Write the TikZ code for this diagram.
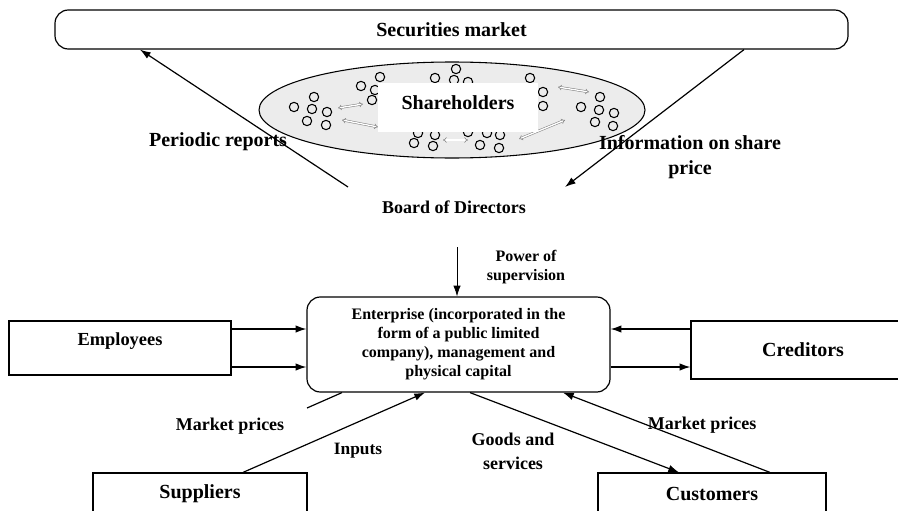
\documentclass[tikz,border=0pt]{standalone}
\usepackage{fontspec}
\setmainfont{Liberation Serif}
\usetikzlibrary{arrows.meta,shapes.geometric}

\begin{document}
\begin{tikzpicture}[
    x=0.75pt, y=-0.75pt,
    box/.style={draw, line width=0.9pt, inner sep=0pt, font=\bfseries\fontsize{15}{19}\selectfont},
    roundbox/.style={box, rounded corners=10pt},
    arr/.style={line width=0.9pt, -{Latex[length=8pt, width=5.5pt]}},
    trade/.style={draw=gray, double=white, double distance=1pt, line width=0.4pt, {Implies}-{Implies}},
    lbl/.style={font=\bfseries\fontsize{13.5}{18}\selectfont, align=center},
    biglbl/.style={font=\bfseries\fontsize{15}{19}\selectfont, align=center},
]
\clip (0,0) rectangle (898,510);
% market and shareholders
\node[roundbox, minimum width=594.75pt, minimum height=29.25pt] (sec) at (451.5,29.5) {Securities market};
\node[ellipse, draw, line width=0.8pt, fill=gray!15, minimum width=289.5pt, minimum height=72pt] (shell) at (452,110) {};
\foreach \p in {(294,107),(314,97),(312,109),(327,112),(307,121),(326,125),
                (361,86),(380,77),(375,90),(372,100),(435,78),(456,69),(454,80),(468,82),
                (418,133),(435,135),(414,143),(433,146),(468,132),(487,133),(500,135),(480,145),(499,148),
                (530,78),(543,92),(543,106),(600,97),(581,107),(599,110),(614,113),(595,122),(613,126)}
    \draw[line width=0.8pt] \p circle[radius=3.5pt];
\draw[trade] (338,108) -- (363,104);
\draw[trade] (342,120) -- (378,127);
\draw[trade] (443,140) -- (468,140);
\draw[trade] (558,87) -- (589,92);
\draw[trade] (519,139) -- (565,120);
\node[fill=white, minimum width=120pt, minimum height=36.75pt, text depth=8pt, biglbl] (sh) at (458,107.5) {Shareholders};
% board
\node[lbl] (bod) at (454,207) {Board of Directors};
\coordinate (bodL) at (348,187);
\coordinate (bodR) at (565,187);
\draw[arr] (bodL) -- (sec.south -| 140,0);
\draw[arr] (sec.south -| 744,0) -- (bodR);
\node[biglbl] (rep) at (218,142) {Periodic reports};
\node[biglbl] (info) at (690,157) {Information on share\\price};
% enterprise
\node[roundbox, minimum width=227.25pt, minimum height=71.25pt, align=center,
      font=\bfseries\fontsize{12}{14.25}\selectfont] (ent) at (458.5,344.5)
    {Enterprise (incorporated in the\\form of a public limited\\company), management and\\physical capital};
\coordinate (pow) at (457,247);
\draw[arr, line width=0.6pt] (pow) -- (ent.north -| 457,0);
\node[lbl, font=\bfseries\fontsize{12}{14}\selectfont] (powl) at (526,267) {Power of\\supervision};
% stakeholders
\node[box, minimum width=166.5pt, minimum height=40.5pt, text depth=13pt, font=\bfseries\fontsize{13.8}{17}\selectfont] (emp) at (120,348) {Employees};
\node[box, minimum width=168pt, minimum height=43.5pt] (cred) at (803,350) {Creditors};
\node[box, minimum width=160.5pt, minimum height=31.5pt] (sup) at (200,494) {Suppliers};
\node[box, minimum width=171pt, minimum height=31.5pt] (cus) at (712,494) {Customers};
\draw[arr] (emp.east |- 0,329) -- (ent.west |- 0,329);
\draw[arr] (emp.east |- 0,367) -- (ent.west |- 0,367);
\draw[arr] (cred.west |- 0,329) -- (ent.east |- 0,329);
\draw[arr] (ent.east |- 0,367) -- (cred.west |- 0,367);
\coordinate (mpl) at (307,408);
\draw[line width=0.9pt] (ent.south -| 342,0) -- (mpl);
\draw[arr] (sup.north -| 243,0) -- (ent.south -| 425,0);
\draw[arr] (ent.south -| 470,0) -- (cus.north -| 679,0);
\draw[arr] (cus.north -| 770,0) -- (ent.south -| 563,0);
\node[lbl] (mpa) at (230,426) {Market prices};
\node[lbl, font=\bfseries\fontsize{13}{17}\selectfont] (inp) at (358,451) {Inputs};
\node[lbl] (gds) at (513,451) {Goods and\\services};
\node[lbl] (mpb) at (702,425) {Market prices};
\end{tikzpicture}
\end{document}
